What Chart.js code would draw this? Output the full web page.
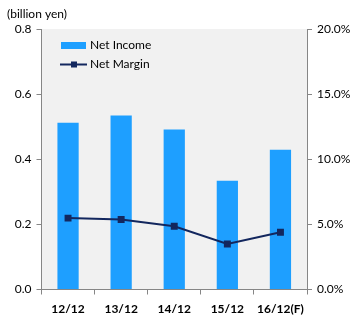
<!DOCTYPE html>
<html>
<head>
<meta charset="utf-8">
<script src="https://cdn.jsdelivr.net/npm/chart.js@4"></script>
<style>
  html, body { margin: 0; padding: 0; background: #fff; }
  #wrap { width: 362px; height: 323px; position: relative; }
</style>
</head>
<body>
<div id="wrap"><canvas id="chart"></canvas></div>
<script>
// Data
const categories = ['12/12', '13/12', '14/12', '15/12', '16/12(F)'];
const netIncome = [0.512, 0.534, 0.491, 0.334, 0.429];   // billion yen
const netMargin = [5.48, 5.37, 4.86, 3.5, 4.4];          // percent
const unitLabel = '(billion yen)';

const FONT = 'Lato, "Open Sans", sans-serif';
const AXIS_GRAY = '#868686';
const BAR_BLUE = '#1e9fff';
const LINE_NAVY = '#13275e';

// grey plot area, like a spreadsheet chart
const plotBackground = {
  id: 'plotBackground',
  beforeDraw(chart) {
    const { ctx, chartArea: a } = chart;
    ctx.save();
    ctx.fillStyle = '#f1f1f1';
    ctx.fillRect(a.left, a.top, a.right - a.left, a.bottom - a.top);
    ctx.restore();
  },
};

// legend sits inside the plot, plus the unit caption above the left axis
const insideLegend = {
  id: 'insideLegend',
  afterDraw(chart) {
    const { ctx } = chart;
    const bar = chart.data.datasets.find(d => d.type === 'bar');
    const line = chart.data.datasets.find(d => d.type === 'line');
    ctx.save();
    ctx.font = '12px ' + FONT;
    ctx.fillStyle = '#000';
    ctx.textBaseline = 'middle';
    ctx.fillText(unitLabel, 7, 14);

    ctx.fillStyle = bar.backgroundColor;
    ctx.fillRect(61, 42, 25, 7);
    ctx.fillStyle = '#000';
    ctx.fillText(bar.label, 90, 45.5);

    ctx.strokeStyle = line.borderColor;
    ctx.lineWidth = 2;
    ctx.beginPath();
    ctx.moveTo(60, 64.5);
    ctx.lineTo(87, 64.5);
    ctx.stroke();
    ctx.fillStyle = line.borderColor;
    ctx.fillRect(71, 61.5, 6, 6);
    ctx.fillStyle = '#000';
    ctx.fillText(line.label, 90, 64.5);
    ctx.restore();
  },
};

new Chart(document.getElementById('chart'), {
  data: {
    labels: categories,
    datasets: [
      {
        type: 'line',
        label: 'Net Margin',
        data: netMargin,
        yAxisID: 'y2',
        borderColor: LINE_NAVY,
        backgroundColor: LINE_NAVY,
        borderWidth: 2,
        pointStyle: 'rect',
        pointRadius: 3.5,
        tension: 0,
        order: 0,
      },
      {
        type: 'bar',
        label: 'Net Income',
        data: netIncome,
        yAxisID: 'y',
        backgroundColor: BAR_BLUE,
        categoryPercentage: 1,
        barPercentage: 0.4,
        order: 1,
      },
    ],
  },
  options: {
    responsive: true,
    maintainAspectRatio: false,
    animation: false,
    layout: { padding: { top: 29, left: 0, right: 0, bottom: 0 } },
    plugins: { legend: { display: false }, tooltip: { enabled: false } },
    scales: {
      x: {
        offset: true,
        grid: { offset: true, drawOnChartArea: false, color: AXIS_GRAY, tickLength: 5 },
        border: { color: AXIS_GRAY },
        ticks: { color: '#000', font: { family: FONT, size: 12, weight: 'bold' }, maxRotation: 0, padding: 7 },
        afterFit(s) { s.height = 33.5; },
      },
      y: {
        position: 'left',
        min: 0, max: 0.8,
        ticks: { stepSize: 0.2, color: '#000', font: { family: FONT, size: 12 }, padding: 5,
          callback: v => v.toFixed(1) },
        grid: { drawOnChartArea: false, color: AXIS_GRAY, tickLength: 5 },
        border: { color: AXIS_GRAY },
        afterFit(s) { s.width = 41.5; },
      },
      y2: {
        position: 'right',
        min: 0, max: 20,
        ticks: { stepSize: 5, color: '#000', font: { family: FONT, size: 12 }, padding: 5,
          callback: v => v.toFixed(1) + '%' },
        grid: { drawOnChartArea: false, color: AXIS_GRAY, tickLength: 5 },
        border: { color: AXIS_GRAY },
        afterFit(s) { s.width = 55; },
      },
    },
  },
  plugins: [plotBackground, insideLegend],
});
</script>
</body>
</html>
